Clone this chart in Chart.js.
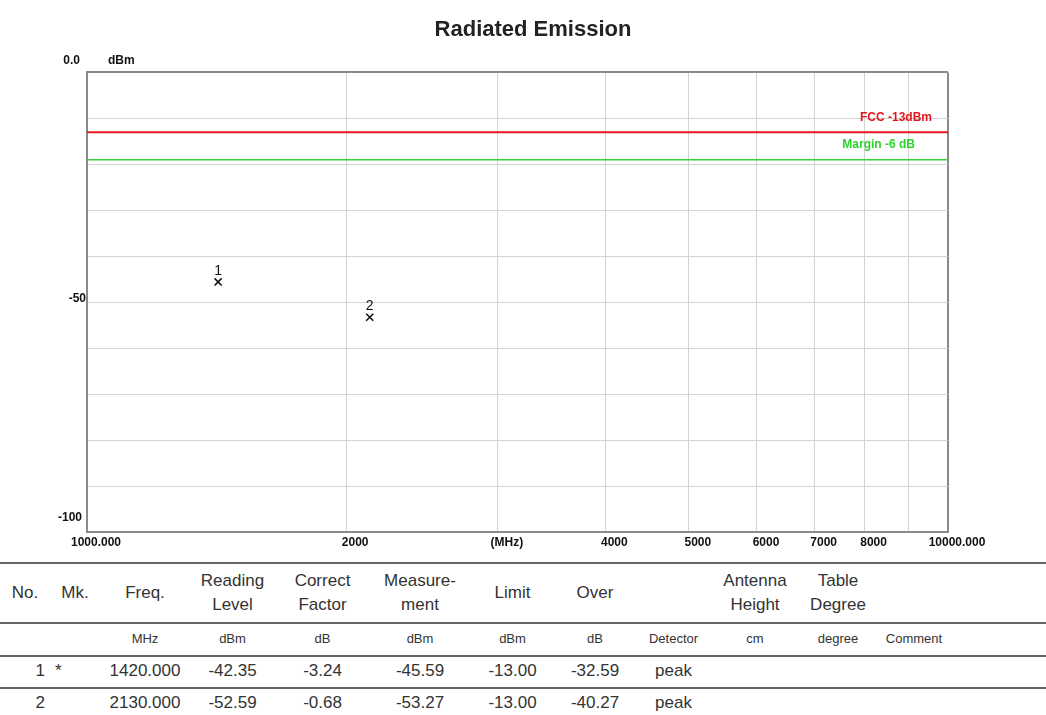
<!DOCTYPE html>
<html>
<head>
<meta charset="utf-8">
<script src="https://cdn.jsdelivr.net/npm/chart.js@4.4.1/dist/chart.umd.min.js"></script>
<style>
  html, body { margin: 0; padding: 0; background: #fff; }
  body { width: 1046px; height: 715px; position: relative; overflow: hidden; font-family: Arial, "Liberation Sans", sans-serif; }
  #chart { position: absolute; left: 0; top: 0; }
  #results { position: absolute; left: 0; top: 562px; width: 1046px; border-collapse: collapse; table-layout: fixed; color: #333; }
  #results td { padding: 0; text-align: center; white-space: nowrap; }
  #results tr { border-top: 2px solid #666; }
  #results tr.head td { font-size: 17px; line-height: 24px; height: 58px; }
  #results tr.units td { font-size: 13px; height: 29px; padding-bottom: 2px; }
  #results tr.row td { font-size: 17px; height: 27px; padding-bottom: 3px; }
  #results tr.row td.no { text-align: right; padding-right: 5px; }
  #results tr.row td.mk { text-align: left; padding-left: 5px; }
</style>
</head>
<body>
<canvas id="chart" width="1046" height="560"></canvas>
<table id="results"></table>
<script>
// marker data
const markerNos = [1, 2];
const markerFlags = ["*", ""];
const freqMHz = [1420.000, 2130.000];
const readingLevel = [-42.35, -52.59];
const correctFactor = [-3.24, -0.68];
const measurement = [-45.59, -53.27];
const limitDbm = [-13.00, -13.00];
const overDb = [-32.59, -40.27];
const detector = ["peak", "peak"];

// limit lines
const fccLimit = -13;
const marginLimit = -19;

// axes
const xTicks = [1000, 2000, 3000, 4000, 5000, 6000, 7000, 8000, 9000, 10000];
const xTickLabels = ["1000.000", "2000", "(MHz)", "4000", "5000", "6000", "7000", "8000", "", "10000.000"];
const yLabelVals = [0, -50, -100];
const yLabelText = ["0.0", "-50", "-100"];

// table text
const headers = ["No.", "Mk.", "Freq.", "Reading<br>Level", "Correct<br>Factor", "Measure-<br>ment", "Limit", "Over", "", "Antenna<br>Height", "Table<br>Degree", "", ""];
const units = ["", "", "MHz", "dBm", "dB", "dBm", "dBm", "dB", "Detector", "cm", "degree", "Comment", ""];
const colWidths = [50, 50, 90, 85, 95, 100, 85, 80, 77, 86, 80, 72, 96];

const frameColor = "#8a8a8a";
const gridColor = "#d4d4d4";

const overlay = {
    id: "overlay",
    afterDraw(chart) {
        const c = chart.ctx, ys = chart.scales.y, area = chart.chartArea;
        c.save();
        c.font = "bold 12px Arial";
        c.fillStyle = "#111";
        c.textBaseline = "middle";
        c.textAlign = "right";
        c.fillText(yLabelText[0], area.left - 7, ys.getPixelForValue(yLabelVals[0]) - 12);
        c.fillText(yLabelText[1], area.left - 1, ys.getPixelForValue(yLabelVals[1]) - 4);
        c.fillText(yLabelText[2], area.left - 5, ys.getPixelForValue(yLabelVals[2]) - 14);
        c.textAlign = "left";
        c.fillText("dBm", area.left + 21, ys.getPixelForValue(0) - 12);

        c.textAlign = "right";
        c.fillStyle = "#e0161e";
        c.fillText("FCC -13dBm", area.right - 16, ys.getPixelForValue(fccLimit) - 14);
        c.fillStyle = "#2ed12e";
        c.fillText("Margin -6 dB", area.right - 33, ys.getPixelForValue(marginLimit) - 15);

        c.textAlign = "center";
        c.fillStyle = "#111";
        c.font = "14px Arial";
        chart.getDatasetMeta(2).data.forEach((p, i) => {
            c.fillText(String(markerNos[i]), p.x, p.y - 11);
        });
        c.restore();
    }
};

new Chart(document.getElementById("chart"), {
    type: "scatter",
    data: {
        datasets: [{
            data: [{x: 1000, y: fccLimit}, {x: 10000, y: fccLimit}],
            showLine: true,
            borderColor: "#e8181e",
            borderWidth: 2,
            pointRadius: 0,
        }, {
            data: [{x: 1000, y: marginLimit}, {x: 10000, y: marginLimit}],
            showLine: true,
            borderColor: "#3ccf3c",
            borderWidth: 1.5,
            pointRadius: 0,
        }, {
            data: freqMHz.map((f, i) => ({x: f, y: measurement[i]})),
            pointStyle: "crossRot",
            pointRadius: 5,
            borderColor: "#111",
            borderWidth: 1.6,
        }],
    },
    options: {
        responsive: false,
        animation: false,
        events: [],
        layout: {padding: {left: 20, right: 0, top: 0, bottom: 0}},
        plugins: {
            legend: {display: false},
            tooltip: {enabled: false},
            title: {
                display: true,
                text: "Radiated Emission",
                color: "#222",
                font: {family: "Arial", size: 22, weight: "bold"},
                padding: {top: 17, bottom: 29},
            },
        },
        scales: {
            x: {
                type: "logarithmic",
                min: 1000,
                max: 10000,
                afterBuildTicks: s => { s.ticks = xTicks.map(v => ({value: v})); },
                afterFit: s => { s.height = 28; },
                ticks: {
                    autoSkip: false,
                    maxRotation: 0,
                    padding: 3,
                    labelOffset: 9,
                    color: "#111",
                    font: {family: "Arial", size: 12, weight: "bold"},
                    callback: (v, i) => xTickLabels[i],
                },
                grid: {
                    drawTicks: false,
                    color: ctx => ctx.tick && ctx.tick.value === 10000 ? frameColor : gridColor,
                    lineWidth: ctx => ctx.tick && ctx.tick.value === 10000 ? 2 : 1,
                },
                border: {color: frameColor, width: 2},
            },
            y: {
                min: -100,
                max: 0,
                ticks: {stepSize: 10, display: false},
                afterFit: s => { s.width = 67; },
                grid: {
                    drawTicks: false,
                    color: ctx => ctx.tick && ctx.tick.value === 0 ? frameColor : gridColor,
                    lineWidth: ctx => ctx.tick && ctx.tick.value === 0 ? 2 : 1,
                },
                border: {color: frameColor, width: 2},
            },
            // empty right-hand space so the plot ends at the same place as the reference
            yRight: {
                position: "right",
                min: -100,
                max: 0,
                ticks: {display: false},
                grid: {display: false},
                border: {display: false},
                afterFit: s => { s.width = 98; },
            },
        },
    },
    plugins: [overlay],
});

// results table
const tbl = document.getElementById("results");
let html = "<colgroup>" + colWidths.map(w => `<col style="width:${w}px">`).join("") + "</colgroup>";
html += "<tr class='head'>" + headers.map(h => `<td>${h}</td>`).join("") + "</tr>";
html += "<tr class='units'>" + units.map(u => `<td>${u}</td>`).join("") + "</tr>";
markerNos.forEach((n, i) => {
    html += "<tr class='row'>" +
        `<td class='no'>${n}</td><td class='mk'>${markerFlags[i]}</td>` +
        `<td>${freqMHz[i].toFixed(3)}</td>` +
        `<td>${readingLevel[i].toFixed(2)}</td>` +
        `<td>${correctFactor[i].toFixed(2)}</td>` +
        `<td>${measurement[i].toFixed(2)}</td>` +
        `<td>${limitDbm[i].toFixed(2)}</td>` +
        `<td>${overDb[i].toFixed(2)}</td>` +
        `<td>${detector[i]}</td><td></td><td></td><td></td><td></td></tr>`;
});
tbl.innerHTML = html;
</script>
</body>
</html>
